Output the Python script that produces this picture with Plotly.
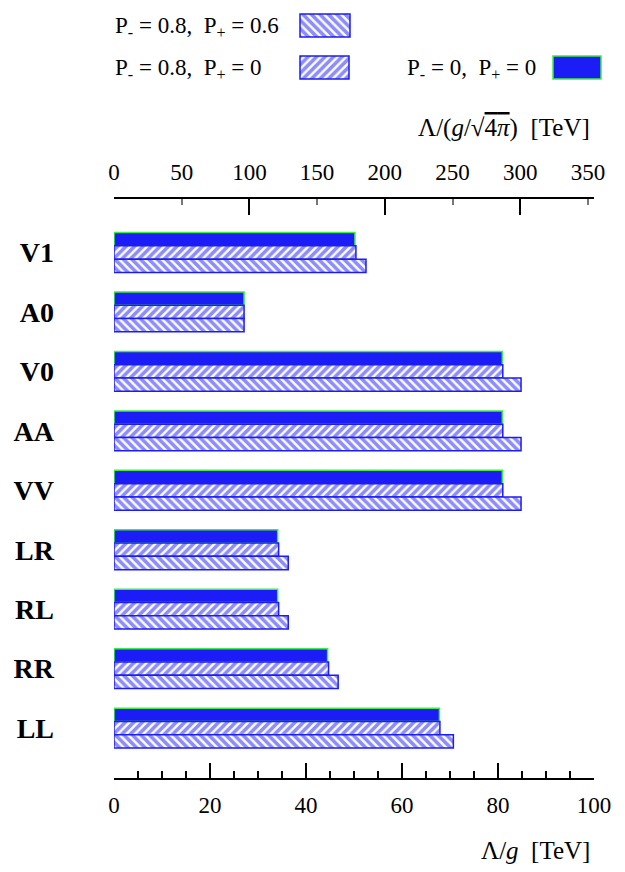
import math
import plotly.graph_objects as go

# ---- data (Λ/g in TeV) ----
categories = ["V1", "A0", "V0", "AA", "VV", "LR", "RL", "RR", "LL"]
vals_00 = [50.2, 27.1, 80.9, 80.9, 80.9, 34.1, 34.1, 44.5, 67.8]   # P-=0, P+=0
vals_08_0 = [50.4, 27.1, 81.0, 81.0, 81.0, 34.3, 34.3, 44.7, 67.9]  # P-=0.8, P+=0
vals_08_06 = [52.5, 27.1, 84.8, 84.8, 84.8, 36.3, 36.3, 46.7, 70.7]  # P-=0.8, P+=0.6

bottom_ticks = [0, 20, 40, 60, 80, 100]
top_ticks = [0, 50, 100, 150, 200, 250, 300, 350]
top_major = [0, 100, 200, 300]
legend_names = ["P<sub>-</sub> = 0.8,  P<sub>+</sub> = 0.6",
                "P<sub>-</sub> = 0.8,  P<sub>+</sub> = 0",
                "P<sub>-</sub> = 0,  P<sub>+</sub> = 0"]

W, H = 625, 872
BLUE = "#1c1cf6"
GREEN = "#3def3d"
SERIF = "Liberation Serif"
scale = math.sqrt(4 * math.pi)

def yp(px):
    return 1 - px / H

HATCH = dict(fgcolor=BLUE, bgcolor="white", size=6, solidity=0.6)

fig = go.Figure()

fig.add_trace(go.Bar(y=categories, x=vals_00, orientation="h",
                     marker=dict(color=BLUE, line=dict(color=GREEN, width=1.5)),
                     showlegend=False))
fig.add_trace(go.Bar(y=categories, x=vals_08_0, orientation="h",
                     marker=dict(color="white", line=dict(color=BLUE, width=1.5),
                                 pattern=dict(shape="/", **HATCH)),
                     showlegend=False))
fig.add_trace(go.Bar(y=categories, x=vals_08_06, orientation="h",
                     marker=dict(color="white", line=dict(color=BLUE, width=1.5),
                                 pattern=dict(shape="\\", **HATCH)),
                     showlegend=False))

# empty traces so the top axes are drawn
fig.add_trace(go.Scatter(x=[None], y=[None], xaxis="x2", yaxis="y", showlegend=False))
fig.add_trace(go.Scatter(x=[None], y=[None], xaxis="x3", yaxis="y", showlegend=False))

# ---- legend swatches on an auxiliary axis ----
leg_rows = [25.5, 67.5, 67.5]
leg_x0 = [300, 300, 553]
leg_w = [50, 49, 48]
leg_styles = [
    dict(color="white", line=dict(color=BLUE, width=1.5), pattern=dict(shape="\\", **HATCH)),
    dict(color="white", line=dict(color=BLUE, width=1.5), pattern=dict(shape="/", **HATCH)),
    dict(color=BLUE, line=dict(color=GREEN, width=1.5)),
]
for r, x0, w, st in zip(leg_rows, leg_x0, leg_w, leg_styles):
    fig.add_trace(go.Bar(y=[r], x=[w], base=[x0], orientation="h", width=[23], offset=-11.5,
                         marker=st, xaxis="x4", yaxis="y4", showlegend=False))

leg_text_x = [113, 113, 405]
leg_text_y = [27, 69, 69]
for t, tx, ty in zip(legend_names, leg_text_x, leg_text_y):
    fig.add_annotation(text=t, x=tx / W, y=yp(ty), xref="paper", yref="paper",
                       xanchor="left", yanchor="middle", showarrow=False,
                       font=dict(family=SERIF, size=23, color="black"))

# axis titles
fig.add_annotation(text="Λ/(<i>g</i>/√<span style='text-decoration:overline'>4<i>π</i></span>)  [TeV]",
                   x=592 / W, y=yp(128), xref="paper", yref="paper",
                   xanchor="right", yanchor="middle", showarrow=False,
                   font=dict(family=SERIF, size=25, color="black"))
fig.add_annotation(text="Λ/<i>g</i>  [TeV]",
                   x=592 / W, y=yp(850), xref="paper", yref="paper",
                   xanchor="right", yanchor="middle", showarrow=False,
                   font=dict(family=SERIF, size=25, color="black"))

xdom = [114 / W, 594 / W]
ydom = [yp(778), yp(199)]
tickfont = dict(family=SERIF, size=23, color="black")

fig.update_layout(
    width=W, height=H,
    margin=dict(l=0, r=0, t=0, b=0, autoexpand=False),
    paper_bgcolor="white", plot_bgcolor="white",
    barmode="group", bargap=0.33, bargroupgap=0,
    xaxis=dict(domain=xdom, anchor="y", range=[0, 100], side="bottom", automargin=False,
               showline=True, linecolor="black", linewidth=1.5,
               ticks="inside", ticklen=15, tickwidth=1.5, tickcolor="black",
               tickvals=bottom_ticks, tickfont=tickfont, ticklabelstandoff=6,
               minor=dict(dtick=5, ticks="inside", ticklen=7, tickwidth=1.5, tickcolor="black"),
               showgrid=False, zeroline=False, fixedrange=True),
    xaxis2=dict(overlaying="x", anchor="y", side="top", range=[0, 100 * scale], automargin=False,
                showline=True, linecolor="black", linewidth=1.5,
                ticks="inside", ticklen=6, tickwidth=1.5, tickcolor="#777",
                tickvals=top_ticks, tickfont=tickfont, ticklabelstandoff=8,
                showgrid=False, zeroline=False),
    xaxis3=dict(overlaying="x", anchor="y", side="top", range=[0, 100 * scale], automargin=False,
                showline=False, ticks="inside", ticklen=16, tickwidth=1.5, tickcolor="black",
                tickvals=top_major, showticklabels=False, showgrid=False, zeroline=False),
    yaxis=dict(domain=ydom, anchor="x", type="category", range=[8.84, -0.90], automargin=False,
               showline=False, ticks="", showgrid=False, zeroline=False,
               tickfont=dict(family=SERIF, size=28, color="black", weight="bold"),
               ticklabelstandoff=59),
    xaxis4=dict(domain=[0, 1], anchor="y4", range=[0, W], visible=False, automargin=False),
    yaxis4=dict(domain=[yp(95), 1], anchor="x4", range=[95, 0], visible=False, automargin=False),
)

fig.write_html("out.html")
